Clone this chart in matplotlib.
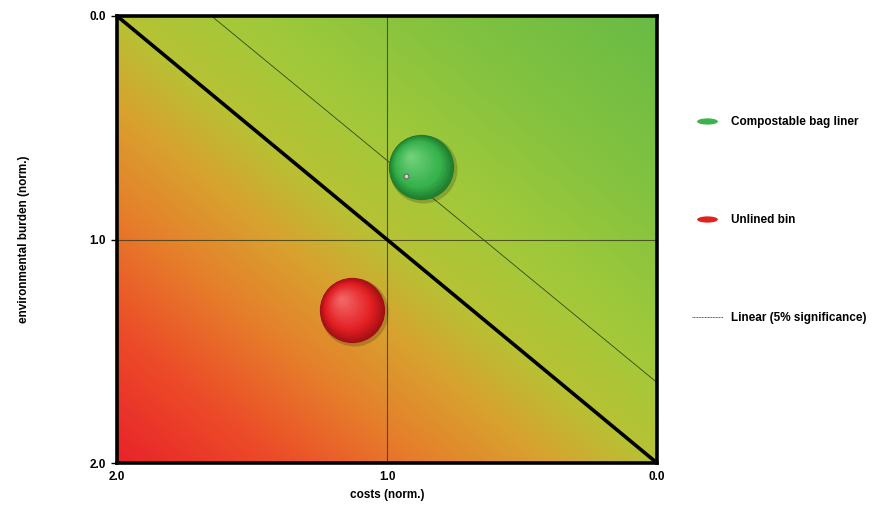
import numpy as np
import matplotlib
matplotlib.use("Agg")
import matplotlib.pyplot as plt
from matplotlib.colors import LinearSegmentedColormap, to_rgb
from matplotlib import transforms
from matplotlib.path import Path
from matplotlib.lines import Line2D

plt.rcParams['font.family'] = ['Liberation Sans', 'DejaVu Sans']

# ---- data ----
names = ['Compostable bag liner', 'Unlined bin']
costs = [0.874, 1.13]
burden = [0.676, 1.315]
reg_label = 'Linear (5% significance)'
reg_x = [1.65, 0.0]
reg_y = [0.0, 1.64]
point_x = [0.93]
point_y = [0.715]
diag_x = [2.0, 0.0]
diag_y = [0.0, 2.0]
ticks = [0.0, 1.0, 2.0]
tick_labels = ['0.0', '1.0', '2.0']

fig = plt.figure(figsize=(8.72, 5.08), dpi=100)
ax = fig.add_axes([117/872, 45/508, 540/872, 447/508])

# background gradient
cmap = LinearSegmentedColormap.from_list('bg', [
    (0.0, '#e8232a'), (0.15, '#ec4c28'), (0.28, '#e67d2b'), (0.40, '#d8a22f'),
    (0.50, '#b6c234'), (0.62, '#a1c93a'), (0.80, '#82c240'), (1.0, '#69bb45')])
gx = np.linspace(2, 0, 300)
gy = np.linspace(0, 2, 300)
GX, GY = np.meshgrid(gx, gy)
T = ((2 - GX) + (2 - GY)) / 4
ax.imshow(T, extent=[2, 0, 2, 0], cmap=cmap, vmin=0, vmax=1, aspect='auto',
          interpolation='bilinear', zorder=0)

ax.set_xlim(2, 0)
ax.set_ylim(2, 0)

# cross lines
ax.axvline(1.0, color='#3a3a1a', lw=0.8, alpha=0.8, zorder=1)
ax.axhline(1.0, color='#3a3a1a', lw=0.8, alpha=0.8, zorder=1)
# diagonal
ax.plot(diag_x, diag_y, color='black', lw=2.6, zorder=2)
# regression line
ax.plot(reg_x, reg_y, color='#2d4a1a', lw=0.6, zorder=4)


def mix(c1, c2, f):
    a, b = np.array(to_rgb(c1)), np.array(to_rgb(c2))
    return tuple(a + (b - a) * f)


def sphere(x, y, R, dark, mid, light, z):
    off = transforms.offset_copy(ax.transData, fig=fig, x=1.5, y=-1.5, units='points')
    ax.plot([x], [y], 'o', ms=2 * R + 2, color='black', alpha=0.18, mec='none',
            transform=off, zorder=z)
    N = 40
    for i in range(N):
        f = i / (N - 1)
        r = R * (1 - 0.92 * f)
        off = transforms.offset_copy(ax.transData, fig=fig, x=-0.32 * R * f,
                                     y=0.32 * R * f, units='points')
        if f < 0.3:
            c = mix(dark, mid, f / 0.3)
        else:
            c = mix(mid, light, (f - 0.3) / 0.7)
        ax.plot([x], [y], 'o', ms=2 * r, color=c, mec='none', transform=off,
                zorder=z + 0.01 * i)


R = 23.5
sphere(costs[0], burden[0], R, '#1f7a2e', '#34b04a', '#6fd07a', 5)
sphere(costs[1], burden[1], R, '#a01014', '#e21e22', '#f26565', 5)

ax.plot(point_x, point_y, 'o', ms=3.5, color='#d8d0c8', mec='#555555', mew=0.6, zorder=7)

for s in ax.spines.values():
    s.set_linewidth(2.6)
    s.set_color('black')
    s.set_zorder(8)

ax.set_xticks(ticks)
ax.set_xticklabels(tick_labels)
ax.set_yticks(ticks)
ax.set_yticklabels(tick_labels)
ax.tick_params(axis='x', length=0, pad=6, labelsize=8.5)
ax.tick_params(axis='y', length=4, width=1, pad=4, labelsize=8.5)
for lab in ax.get_xticklabels() + ax.get_yticklabels():
    lab.set_fontweight('bold')

ax.set_xlabel('costs (norm.)', fontsize=8.5, fontweight='bold', labelpad=4)
ax.set_ylabel('environmental burden (norm.)', fontsize=8.5, fontweight='bold', labelpad=43)

# legend
ell = Path(Path.unit_circle().vertices * np.array([1.0, 0.3]), Path.unit_circle().codes)
handles = [
    Line2D([], [], ls='none', marker=ell, ms=15, color='#3cb34a', mec='none'),
    Line2D([], [], ls='none', marker=ell, ms=15, color='#e0221f', mec='none'),
    Line2D([], [], ls=(0, (1, 0.6)), lw=0.7, color='#555555'),
]
labels = [names[0], names[1], reg_label]
leg = fig.legend(handles, labels, loc='center left', bbox_to_anchor=(686/872, 1 - 220/508),
                 frameon=False, fontsize=8.5, labelspacing=7.3, handlelength=2.6,
                 handletextpad=0.7, borderpad=0)
for t in leg.get_texts():
    t.set_fontweight('bold')

fig.savefig('out.png', dpi=100)
